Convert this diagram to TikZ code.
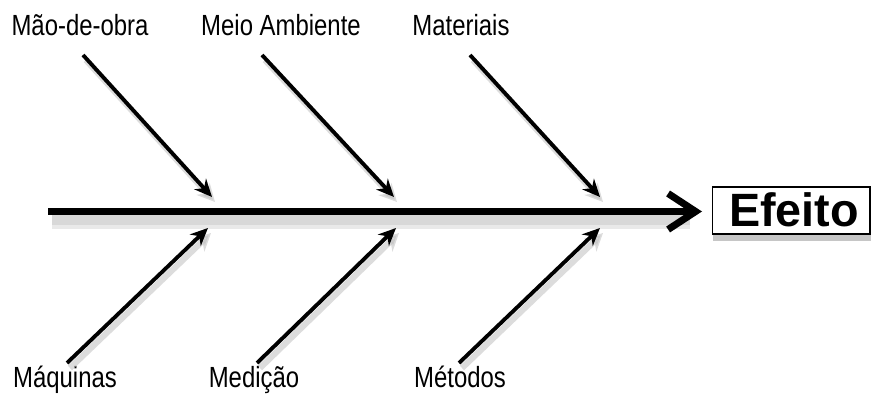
\documentclass[tikz,border=0pt]{standalone}
\usepackage{fontspec}
\setmainfont{Liberation Sans}
\newfontfamily\causefont[FakeStretch=0.82]{Liberation Sans}
\newfontfamily\effectfont{Liberation Sans}
\usepackage{tikz}
\usetikzlibrary{arrows.meta, shadows, calc}

\tikzset{
	cause/.style = {anchor=base, inner sep=0pt,
		font=\causefont\fontsize{16.6pt}{18pt}\selectfont},
	bone/.style = {line width=2.2pt, -{Stealth[length=10pt, width=9pt]}},
	boneshadow/.style = {line width=3.5pt, color=black!25, opacity=0.55,
		-{Stealth[length=10pt, width=10pt]}},
	spine/.style = {line width=4pt, -{Straight Barb[length=0.55cm, width=0.72cm]}},
	effectbox/.style = {draw, fill=white, line width=0.6pt, minimum width=3.16cm,
		minimum height=0.94cm, inner sep=0pt,
		drop shadow={shadow xshift=0.5pt, shadow yshift=-4pt, opacity=0.45}}
}

\begin{document}
\begin{tikzpicture}[x=0.02cm, y=-0.02cm]
\useasboundingbox (0, 0) rectangle (871, 394);

% labels
\node[cause] (maoobra) at (80, 36) {Mão-de-obra};
\node[cause] (meioamb) at (281, 36) {Meio Ambiente};
\node[cause] (materiais) at (461, 36) {Materiais};
\node[cause] (maquinas) at (65, 387) {Máquinas};
\node[cause] (medicao) at (254, 387) {Medição};
\node[cause] (metodos) at (460, 387) {Métodos};

% effect box
\node[effectbox] (efeito) at (791, 210.5) {};
\node[anchor=base, inner sep=0pt,
	font=\effectfont\bfseries\fontsize{26.6pt}{30pt}\selectfont]
	(efeitotxt) at (794, 227) {Efeito};

% end points of the bones
\coordinate (ta) at (83, 55);   \coordinate (tah) at (212, 197);
\coordinate (tb) at (262, 55);  \coordinate (tbh) at (394, 197);
\coordinate (tc) at (470, 55);  \coordinate (tch) at (600, 197);
\coordinate (ba) at (67, 363);  \coordinate (bah) at (208, 228);
\coordinate (bb) at (257, 363); \coordinate (bbh) at (396, 228);
\coordinate (bc) at (459, 363); \coordinate (bch) at (600, 228);
\coordinate (tail) at (48, 211.5);
\coordinate (head) at (702, 211.5);

% shadows
\foreach \s/\e in {ta/tah, tb/tbh, tc/tch, ba/bah, bb/bbh, bc/bch}
	\draw[boneshadow] ($(\s)+(3, 5)$) -- ($(\e)+(3, 5)$);
\fill[black!22, opacity=0.7] (52, 215) rectangle (690, 225);
\fill[black!12, opacity=0.7] (52, 225) rectangle (690, 229);

% bones
\foreach \s/\e in {ta/tah, tb/tbh, tc/tch, ba/bah, bb/bbh, bc/bch}
	\draw[bone] (\s) -- (\e);

\draw[spine] (tail) -- (head);
\end{tikzpicture}
\end{document}
